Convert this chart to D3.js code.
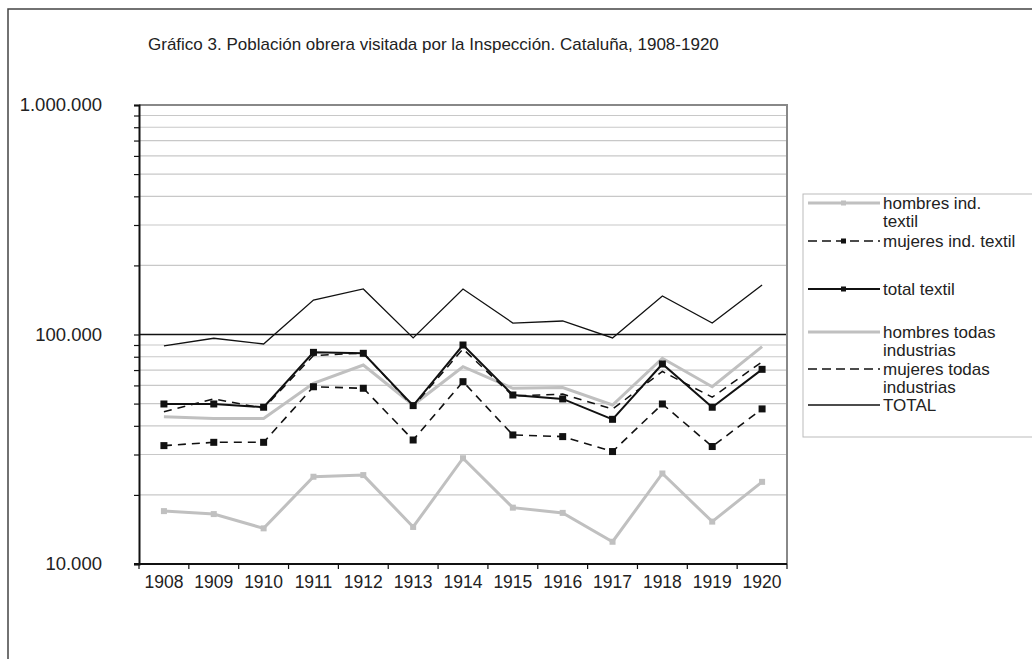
<!DOCTYPE html>
<html>
<head>
<meta charset="utf-8">
<script src="https://cdn.jsdelivr.net/npm/d3@7"></script>
<style>
  body { margin: 0; background: #fff; }
  svg text { font-family: "Liberation Sans", Arial, sans-serif; fill: #222; }
</style>
</head>
<body>
<div id="chart"></div>
<script>
// data
const years = ["1908","1909","1910","1911","1912","1913","1914","1915","1916","1917","1918","1919","1920"];
const hombresTextil = [17000,16500,14300,24000,24400,14500,28900,17600,16700,12500,24800,15300,22800];
const mujeresTextil = [32800,33900,33900,59200,58300,34700,62300,36500,35900,30900,49800,32500,47400];
const totalTextil   = [49800,49800,48200,83600,82800,49000,90000,54500,52400,42700,74400,48200,70500];
const hombresTodas  = [43800,43100,43100,61300,73600,49300,72400,58300,58700,49300,78800,59200,88500];
const mujeresTodas  = [46100,52400,47700,81000,83000,48500,86500,54000,55000,47300,69000,53300,76000];
const totalGeneral  = [89300,96300,90900,141300,157900,96600,157900,112200,114500,96600,147200,112200,164300];
const yTickLabels = ["10.000","100.000","1.000.000"];

const config = {width: 1032, height: 659, left: 139, right: 787, top: 105, bottom: 564};

const series = [
  {name: ["hombres ind.", "textil"], values: hombresTextil, color: "#c0c0c0", width: 3, dash: null, marker: true},
  {name: ["mujeres ind. textil"], values: mujeresTextil, color: "#111", width: 1.6, dash: "8,6", marker: true},
  {name: ["total textil"], values: totalTextil, color: "#111", width: 2, dash: null, marker: true},
  {name: ["hombres todas", "industrias"], values: hombresTodas, color: "#c0c0c0", width: 3, dash: null, marker: false},
  {name: ["mujeres todas", "industrias"], values: mujeresTodas, color: "#111", width: 1.5, dash: "8,6", marker: false},
  {name: ["TOTAL"], values: totalGeneral, color: "#111", width: 1.3, dash: null, marker: false}
];

const svg = d3.select("#chart").append("svg")
  .attr("width", config.width)
  .attr("height", config.height);

// outer frame
svg.append("rect")
  .attr("x", 8).attr("y", 9)
  .attr("width", 1100).attr("height", 700)
  .attr("fill", "none").attr("stroke", "#444").attr("stroke-width", 1.5);

// title
svg.append("text")
  .attr("x", 148).attr("y", 50)
  .style("font-size", "17px")
  .text("Gráfico 3. Población obrera visitada por la Inspección. Cataluña, 1908-1920");

const x = d3.scalePoint().domain(years).range([config.left, config.right]).padding(0.5);
const y = d3.scaleLog().domain([10000, 1000000]).range([config.bottom, config.top]);

// minor gridlines (2..9 x 10^k)
const minor = [];
[10000, 100000].forEach(b => { for (let m = 2; m <= 9; m++) minor.push(b * m); });

svg.append("g").selectAll("line")
  .data(minor)
  .enter().append("line")
    .attr("x1", config.left).attr("x2", config.right)
    .attr("y1", d => y(d)).attr("y2", d => y(d))
    .attr("stroke", "#c8c8c8").attr("stroke-width", 1.2);

// 100.000 major line
svg.append("line")
  .attr("x1", config.left).attr("x2", config.right)
  .attr("y1", y(100000)).attr("y2", y(100000))
  .attr("stroke", "#111").attr("stroke-width", 1.3);

// plot border top + right
svg.append("path")
  .attr("d", `M${config.left},${config.top}H${config.right}V${config.bottom}`)
  .attr("fill", "none").attr("stroke", "#888").attr("stroke-width", 2);

// left axis
const yAxis = d3.axisLeft(y)
  .tickValues([10000, 100000, 1000000].concat(minor))
  .tickSize(5)
  .tickFormat("");
const gy = svg.append("g").attr("transform", `translate(${config.left},0)`).call(yAxis);
gy.select(".domain").attr("stroke", "#111").attr("stroke-width", 2);
gy.selectAll(".tick line").attr("stroke", "#111").attr("stroke-width", 1.2);

svg.append("g").selectAll("text")
  .data([10000, 100000, 1000000])
  .enter().append("text")
    .attr("x", 102)
    .attr("y", d => y(d) + 6)
    .attr("text-anchor", "end")
    .style("font-size", "18.5px")
    .text((d, i) => yTickLabels[i]);

// bottom axis: ticks between categories
const step = x.step();
const bounds = d3.range(years.length + 1).map(i => config.left + i * step);
svg.append("line")
  .attr("x1", config.left - 5).attr("x2", config.right)
  .attr("y1", config.bottom).attr("y2", config.bottom)
  .attr("stroke", "#111").attr("stroke-width", 2);
svg.append("g").selectAll("line")
  .data(bounds)
  .enter().append("line")
    .attr("x1", d => d).attr("x2", d => d)
    .attr("y1", config.bottom).attr("y2", config.bottom + 5)
    .attr("stroke", "#111").attr("stroke-width", 1.2);
svg.append("g").selectAll("text")
  .data(years)
  .enter().append("text")
    .attr("x", d => x(d))
    .attr("y", config.bottom + 24)
    .attr("text-anchor", "middle")
    .style("font-size", "17.5px")
    .text(d => d);

// series
const line = d3.line().x((d, i) => x(years[i])).y(d => y(d));
const drawOrder = [3, 4, 5, 0, 1, 2];
drawOrder.forEach(k => {
  const s = series[k];
  svg.append("path")
    .datum(s.values)
    .attr("fill", "none")
    .attr("stroke", s.color)
    .attr("stroke-width", s.width)
    .attr("stroke-dasharray", s.dash)
    .attr("stroke-linejoin", "miter")
    .attr("d", line);
  if (s.marker) {
    const sz = s.color === "#111" ? 7 : 6;
    svg.append("g").selectAll("rect")
      .data(s.values)
      .enter().append("rect")
        .attr("x", (d, i) => x(years[i]) - sz / 2)
        .attr("y", d => y(d) - sz / 2)
        .attr("width", sz).attr("height", sz)
        .attr("fill", s.color);
  }
});

// legend
const legend = svg.append("g");
legend.append("rect")
  .attr("x", 803).attr("y", 194)
  .attr("width", 260).attr("height", 243)
  .attr("fill", "#fff").attr("stroke", "#bbb").attr("stroke-width", 1);

const legendY = [203, 241, 289, 332, 369, 405];
series.forEach((s, i) => {
  const ly = legendY[i];
  legend.append("line")
    .attr("x1", 808).attr("x2", 880)
    .attr("y1", ly).attr("y2", ly)
    .attr("stroke", s.color)
    .attr("stroke-width", s.width)
    .attr("stroke-dasharray", s.dash ? "9,5" : null);
  if (s.marker) {
    legend.append("rect")
      .attr("x", 841).attr("y", ly - 2.5)
      .attr("width", 5).attr("height", 5)
      .attr("fill", s.color);
  }
  s.name.forEach((t, j) => {
    legend.append("text")
      .attr("x", 883)
      .attr("y", ly + 6 + j * 18)
      .style("font-size", "17px")
      .text(t);
  });
});
</script>
</body>
</html>
